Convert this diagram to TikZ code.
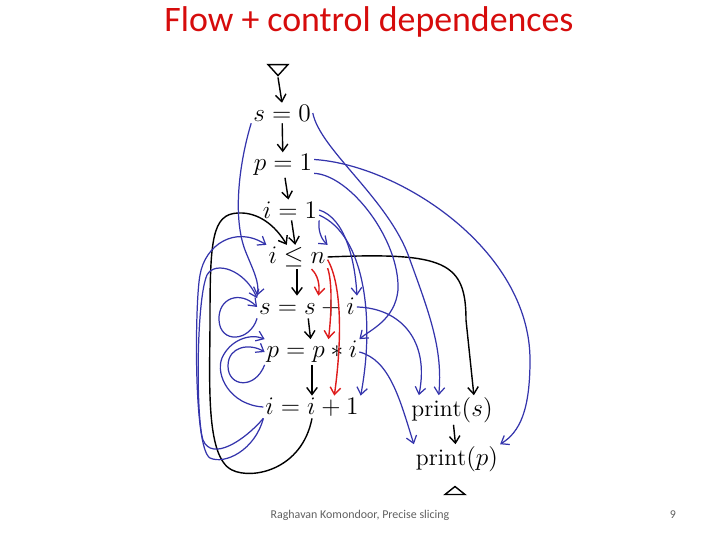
\documentclass[tikz,border=0pt]{standalone}
\usepackage{fontspec}
\newfontfamily\calibri{Carlito}
\usetikzlibrary{arrows.meta}
\usetikzlibrary{shapes.geometric}
\definecolor{blue}{RGB}{52,52,172}
\definecolor{red}{RGB}{222,28,28}
\definecolor{titlered}{RGB}{214,12,12}
\definecolor{footgray}{RGB}{95,95,95}

\begin{document}
\begin{tikzpicture}[x=0.02cm, y=-0.02cm,
    stmt/.style={inner sep=1pt, font=\fontsize{13.5}{15}\selectfont},
    flow/.style={-{Straight Barb[length=4pt,width=6pt]}, black, line width=0.8pt},
    dep/.style={-{Straight Barb[length=4pt,width=6pt]}, blue, line width=0.7pt},
    ctrl/.style={-{Straight Barb[length=4pt,width=6pt]}, red, line width=0.8pt}]
    \useasboundingbox (0,0) rectangle (720,540);

    \node[titlered, font=\calibri\fontsize{20.4}{24}\selectfont] (title) at (369,22) {Flow + control dependences};

    % statements
    \node[draw, line width=0.8pt, isosceles triangle, isosceles triangle stretches, shape border rotate=270,
          minimum width=0.4cm, minimum height=0.22cm, inner sep=0pt] (entry) at (278,69) {};
    \node[stmt] (s0) at (282,113) {$s=0$};
    \node[stmt] (p1) at (283,165) {$p=1$};
    \node[stmt] (i1) at (290,210) {$i=1$};
    \node[stmt] (ile) at (297,257) {$i\leq n$};
    \node[stmt] (ssi) at (307,307) {$s=s+i$};
    \node[stmt] (ppi) at (312,352) {$p=p*i$};
    \node[stmt] (iii) at (312,407) {$i=i+1$};
    \node[stmt] (prs) at (452,410) {$\mathrm{print}(s)$};
    \node[stmt] (prp) at (457,459) {$\mathrm{print}(p)$};
    \node[draw, line width=0.8pt, isosceles triangle, isosceles triangle stretches, shape border rotate=90,
          minimum width=0.4cm, minimum height=0.16cm, inner sep=0pt] (exit) at (455,491) {};

    % control flow
    \draw[flow] (entry.apex) -- (s0.north);
    \draw[flow] (s0) -- (p1);
    \draw[flow] (p1) -- (i1);
    \draw[flow] (i1) -- (ile);
    \draw[flow] (ile.south) -- (ile.south |- ssi.north);
    \draw[flow] (ssi) -- (ppi);
    \draw[flow] (ppi) -- (iii);
    \draw[flow] (prs) -- (prp);
    \draw[flow] (ile.east) .. controls (445,252) and (466,262) .. (466,320) -- (prs.34);
    \draw[flow] (iii.south) .. controls (302,470) and (252,480) .. (232,470)
        .. controls (205,457) and (210,380) .. (210,320)
        .. controls (210,240) and (212,214) .. (238,213)
        .. controls (258,212) and (275,225) .. (ile.130);

    % control dependences
    \draw[ctrl] (ile.-40) .. controls (318,275) and (320,285) .. (ssi.45);
    \draw[ctrl] (ile.-20) .. controls (332,280) and (332,310) .. (ppi.38);
    \draw[ctrl] (ile.-5) .. controls (342,285) and (342,340) .. (iii.27);

    % data dependences
    \draw[dep] (s0.south west) .. controls (240,160) and (232,215) .. (245,250)
        .. controls (252,268) and (260,282) .. (ssi.north west);
    \draw[dep] (s0.east) .. controls (320,150) and (390,200) .. (410,260)
        .. controls (430,315) and (443,350) .. (prs.132);
    \draw[dep] (p1.10) .. controls (400,165) and (530,250) .. (530,360)
        .. controls (530,410) and (520,432) .. (prp.north east);
    \draw[dep] (p1.-15) .. controls (350,175) and (400,240) .. (398,290)
        .. controls (395,320) and (370,330) .. (ppi.north east);
    \draw[dep] (i1.south east) .. controls (318,228) and (320,238) .. (ile.north east);
    \draw[dep] (i1.east) .. controls (345,218) and (355,260) .. (ssi.north east);
    \draw[dep] (i1.-10) .. controls (365,235) and (375,320) .. (iii.north east);
    \draw[dep] (ssi.east) .. controls (400,308) and (430,340) .. (prs.156);
    \draw[dep] (ppi.east) .. controls (390,360) and (400,400) .. (prp.north west);
    \draw[dep] (iii.south west) .. controls (255,450) and (225,465) .. (210,458)
        .. controls (193,448) and (195,300) .. (200,275)
        .. controls (205,245) and (235,225) .. (ile.north west);
    \draw[dep] (iii.south west) .. controls (245,440) and (212,462) .. (203,440)
        .. controls (196,420) and (196,300) .. (207,275)
        .. controls (215,260) and (245,270) .. (ssi.170);
    \draw[dep] (iii.west) .. controls (230,405) and (215,375) .. (222,358)
        .. controls (230,340) and (250,333) .. (ppi.north west);
    \draw[dep] (ssi.south west) .. controls (250,342) and (220,344) .. (219,320)
        .. controls (218,298) and (240,290) .. (ssi.west);
    \draw[dep] (ppi.south west) .. controls (255,390) and (228,387) .. (228,366)
        .. controls (228,346) and (250,343) .. (ppi.west);

    \node[footgray, font=\calibri\fontsize{6.8}{8}\selectfont] (credit) at (360,515) {Raghavan Komondoor, Precise slicing};
    \node[footgray, font=\calibri\fontsize{6.8}{8}\selectfont] (pageno) at (673,515) {9};
\end{tikzpicture}
\end{document}
